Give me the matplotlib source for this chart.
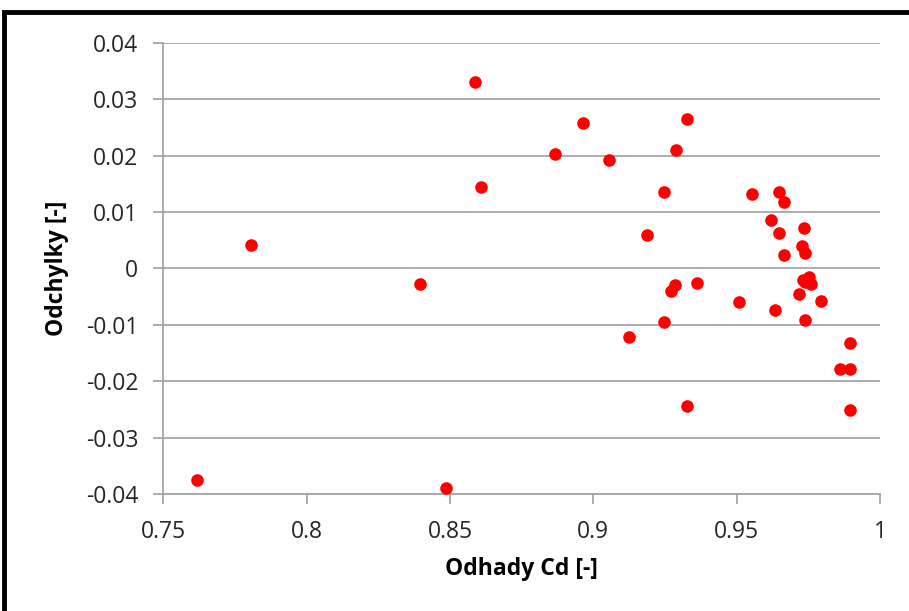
import numpy as np
import matplotlib.pyplot as plt
from matplotlib.patches import Rectangle

# odhady Cd (x) a odchylky (y)
cd = [0.8588, 0.8609, 0.7806, 0.8396, 0.7619, 0.8485,
      0.8963, 0.9326, 0.8866, 0.9053, 0.9290, 0.9245, 0.9187, 0.9554,
      0.9647, 0.9666, 0.9620, 0.9648, 0.9736, 0.9727, 0.9737, 0.9666,
      0.9285, 0.9271, 0.9362, 0.9509, 0.9634, 0.9730, 0.9752, 0.9759,
      0.9739, 0.9719, 0.9795, 0.9737, 0.9248, 0.9125, 0.9897, 0.9859,
      0.9896, 0.9326, 0.9894]
odch = [0.0331, 0.0145, 0.0042, -0.0027, -0.0376, -0.0390,
        0.0258, 0.0265, 0.0203, 0.0192, 0.0210, 0.0135, 0.0059, 0.0131,
        0.0135, 0.0117, 0.0086, 0.0063, 0.0072, 0.0040, 0.0027, 0.0024,
        -0.0030, -0.0040, -0.0026, -0.0060, -0.0074, -0.0021, -0.0016, -0.0028,
        -0.0025, -0.0046, -0.0058, -0.0092, -0.0095, -0.0122, -0.0132, -0.0178,
        -0.0178, -0.0244, -0.0251]

xticks = [0.75, 0.8, 0.85, 0.9, 0.95, 1.0]
xticklabels = ['0.75', '0.8', '0.85', '0.9', '0.95', '1']
yticks = [-0.04, -0.03, -0.02, -0.01, 0, 0.01, 0.02, 0.03, 0.04]
yticklabels = ['-0.04', '-0.03', '-0.02', '-0.01', '0', '0.01', '0.02', '0.03', '0.04']

plt.rcParams['font.family'] = ['Open Sans', 'DejaVu Sans']

fig = plt.figure(figsize=(9.09, 6.11), dpi=100)
ax = fig.add_axes([0.1797, 0.1915, 0.7884, 0.7385])

# black frame of the chart (cut at right/bottom)
fig.patches.append(Rectangle((0.004, -0.05), 1.1, 1.03, transform=fig.transFigure,
                             fill=False, edgecolor='black', linewidth=3.5))

grid_c = '#a6a6a6'
ax.scatter(cd, odch, s=82, color='#ff0000', zorder=3, linewidths=0)

ax.set_xlim(0.75, 1.0)
ax.set_ylim(-0.04, 0.04)
ax.set_xticks(xticks)
ax.set_xticklabels(xticklabels)
ax.set_yticks(yticks)
ax.set_yticklabels(yticklabels)

ax.yaxis.grid(True, color=grid_c, linewidth=1.3)
ax.set_axisbelow(True)
for s in ['top', 'right']:
    ax.spines[s].set_visible(False)
for s in ['left', 'bottom']:
    ax.spines[s].set_color(grid_c)
    ax.spines[s].set_linewidth(1.3)

ax.tick_params(axis='both', colors=grid_c, labelcolor='#262626', labelsize=16.5,
               length=7, width=1.3)
ax.tick_params(axis='x', pad=12)
ax.tick_params(axis='y', pad=11)

ax.set_xlabel('Odhady Cd [-]', fontsize=16.5, fontweight='bold', labelpad=9)
ax.set_ylabel('Odchylky [-]', fontsize=16.5, fontweight='bold', labelpad=12)

fig.savefig('out.png', dpi=100)
